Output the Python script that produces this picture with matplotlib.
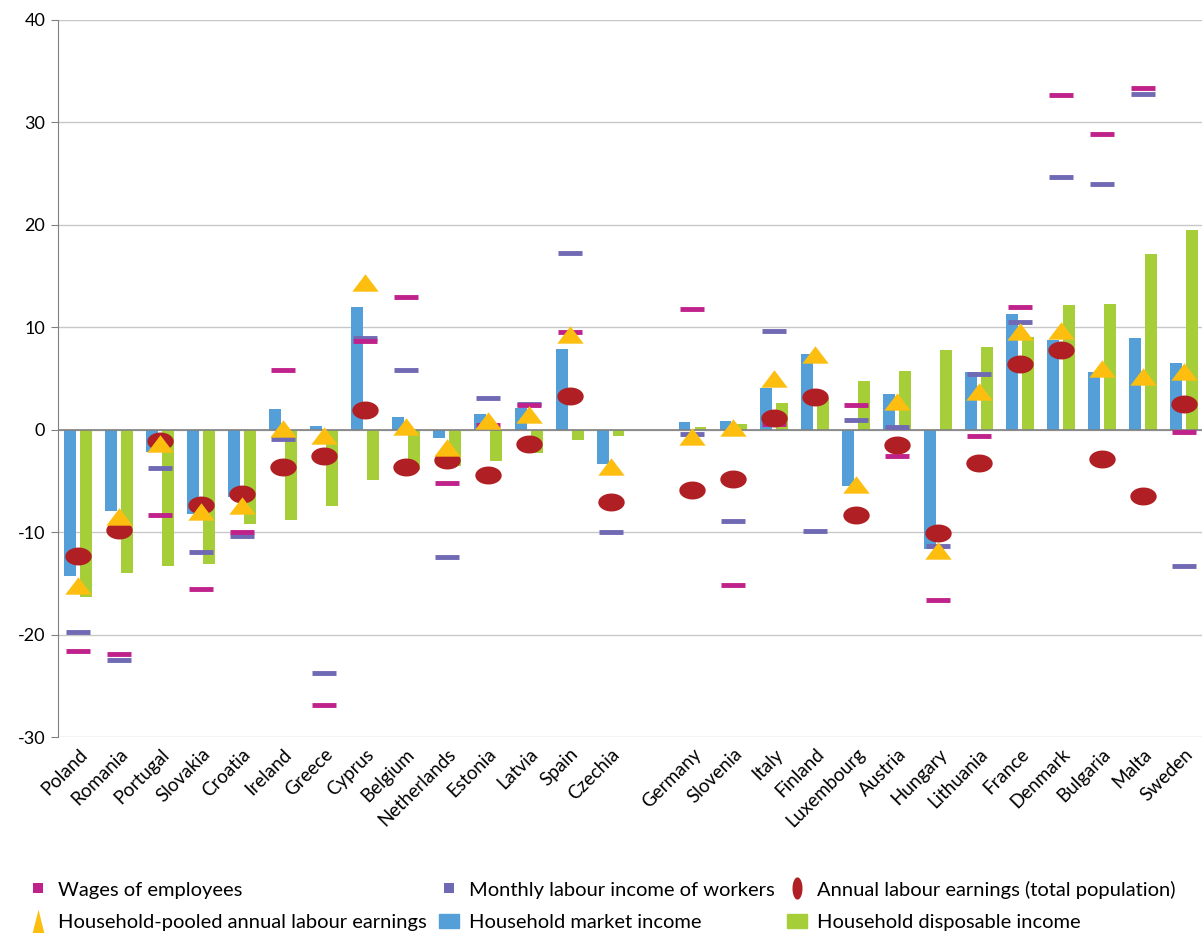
import numpy as np
import matplotlib.pyplot as plt
from matplotlib.path import Path
from matplotlib.lines import Line2D
from matplotlib.patches import Patch
from matplotlib.ticker import FuncFormatter

plt.rcParams['font.family'] = ['Lato', 'DejaVu Sans']

countries = ['Poland', 'Romania', 'Portugal', 'Slovakia', 'Croatia', 'Ireland', 'Greece',
             'Cyprus', 'Belgium', 'Netherlands', 'Estonia', 'Latvia', 'Spain', 'Czechia',
             'Germany', 'Slovenia', 'Italy', 'Finland', 'Luxembourg', 'Austria', 'Hungary',
             'Lithuania', 'France', 'Denmark', 'Bulgaria', 'Malta', 'Sweden']

wages = [-21.6, -21.9, -8.3, -15.5, -10.0, 5.8, -26.9, 8.7, 13.0, -5.2, 0.5, 2.4, 9.5, -7.0,
         11.8, -15.2, 0.6, 3.2, 2.4, -2.6, -16.6, -0.6, 12.0, 32.7, 28.9, 33.4, -0.2]
monthly = [-19.7, -22.5, -3.7, -11.9, -10.4, -0.9, -23.7, 9.0, 5.8, -12.4, 3.1, 2.5, 17.3, -10.0,
           -0.4, -8.9, 9.6, -9.9, 0.95, 0.3, -11.3, 5.4, 10.5, 24.7, 24.0, 32.8, -13.3]
annual = [-12.3, -9.8, -1.1, -7.3, -6.3, -3.6, -2.6, 1.9, -3.6, -3.0, -4.4, -1.4, 3.3, -7.1,
          -5.9, -4.8, 1.1, 3.2, -8.3, -1.5, -10.1, -3.2, 6.4, 7.8, -2.9, -6.5, 2.5]
pooled = [-15.3, -8.5, -1.4, -8.0, -7.4, 0.05, -0.6, 14.3, 0.3, -1.8, 0.9, 1.4, 9.2, -3.6,
          -0.7, 0.2, 5.0, 7.3, -5.4, 2.7, -11.8, 3.7, 9.5, 9.6, 5.9, 5.1, 5.6]
market = [-14.3, -7.9, -2.2, -8.2, -6.6, 2.0, 0.4, 12.0, 1.2, -0.85, 1.5, 2.1, 7.9, -3.3,
          0.8, 0.9, 4.1, 7.4, -5.5, 3.5, -11.6, 5.6, 11.3, 8.8, 5.6, 9.0, 6.5]
disposable = [-16.3, -14.0, -13.3, -13.1, -9.2, -8.8, -7.4, -4.9, -3.9, -3.5, -3.1, -2.3, -1.0, -0.6,
              0.3, 0.6, 2.6, 3.1, 4.8, 5.7, 7.8, 8.1, 9.1, 12.2, 12.3, 17.2, 19.5]

c_wages = '#C0228B'
c_monthly = '#7069B3'
c_annual = '#B01F24'
c_pooled = '#FDBE10'
c_market = '#549FD7'
c_disp = '#A6CE39'

# squashed ellipse and triangle like the original
t = np.linspace(0, 2 * np.pi, 60)
ellipse = Path(np.column_stack([np.cos(t), 0.68 * np.sin(t)]))
tri = Path([(-1, -0.62), (1, -0.62), (0, 0.7), (-1, -0.62)], closed=True)
ellipse_tall = Path(np.column_stack([0.45 * np.cos(t), np.sin(t)]))
tri_tall = Path([(-0.5, -1), (0.5, -1), (0, 1), (-0.5, -1)], closed=True)

x = np.arange(len(countries))
x = x + (x >= 14)  # gap between the two groups

fig = plt.figure(figsize=(12.02, 9.33), dpi=100)
ax = fig.add_axes([0.048, 0.21, 0.954, 0.7686])

ax.bar(x - 0.195, market, width=0.29, color=c_market, zorder=2)
ax.bar(x + 0.195, disposable, width=0.29, color=c_disp, zorder=2)
ax.axhline(0, color='#808080', lw=1.2, zorder=3)

ax.plot(x, monthly, ls='none', marker='_', ms=17, mew=3.5, color=c_monthly, zorder=4)
ax.plot(x, wages, ls='none', marker='_', ms=17, mew=3.5, color=c_wages, zorder=4)
ax.plot(x, annual, ls='none', marker=ellipse, ms=19, color=c_annual, mec='none', zorder=5)
ax.plot(x, pooled, ls='none', marker=tri, ms=19, color=c_pooled, mec='none', zorder=6)

ax.set_xlim(-0.5, 27.5)
ax.set_ylim(-30, 40)
ax.set_yticks(range(-30, 41, 10))
ax.yaxis.set_major_formatter(FuncFormatter(lambda v, p: f'{int(v)}'))
ax.grid(axis='y', color='#C8C8C8', lw=1, zorder=0)
ax.set_axisbelow(True)
for s in ['top', 'right', 'bottom']:
    ax.spines[s].set_visible(False)
ax.spines['left'].set_color('#808080')
ax.tick_params(axis='y', length=5, color='#808080', labelsize=13, pad=4)
ax.set_xticks(x)
ax.set_xticklabels(countries, rotation=45, ha='right', rotation_mode='anchor', fontsize=13.5)
ax.tick_params(axis='x', length=0, pad=6)

handles = [
    Line2D([], [], ls='none', marker='s', ms=7, mew=0, color=c_wages, markeredgecolor='none'),
    Line2D([], [], ls='none', marker=tri_tall, ms=17, color=c_pooled, mec='none'),
    Line2D([], [], ls='none', marker='s', ms=7, mew=0, color=c_monthly, markeredgecolor='none'),
    Patch(color=c_market),
    Line2D([], [], ls='none', marker=ellipse_tall, ms=16, color=c_annual, mec='none'),
    Patch(color=c_disp),
]
labels = ['Wages of employees', 'Household-pooled annual labour earnings',
          'Monthly labour income of workers', 'Household market income',
          'Annual labour earnings (total population)', 'Household disposable income']
fig.legend(handles, labels, ncol=3, loc='lower left', bbox_to_anchor=(0.008, -0.017),
           frameon=False, fontsize=14.5, handlelength=1.0, handletextpad=0.5,
           columnspacing=0.6, labelspacing=0.75)

fig.savefig('out.png', dpi=100)
